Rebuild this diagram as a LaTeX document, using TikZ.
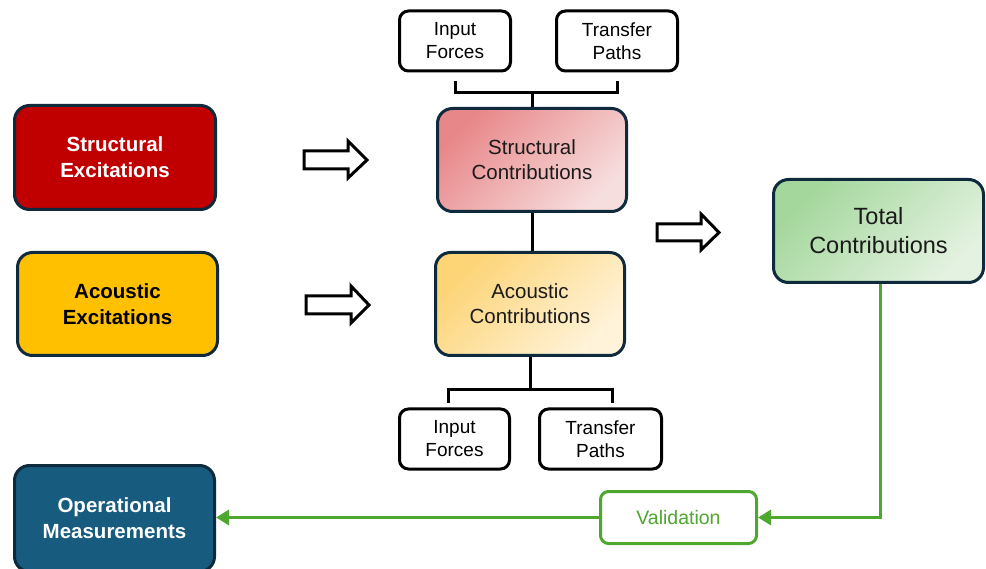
\documentclass[tikz,border=0pt]{standalone}
\usepackage{fontspec}
\setmainfont{Liberation Sans}
\usetikzlibrary{arrows.meta,calc}
\definecolor{navy}{HTML}{0E2A3C}
\definecolor{sred}{HTML}{C00000}
\definecolor{ayel}{HTML}{FFC000}
\definecolor{opblue}{HTML}{175C7E}
\definecolor{gline}{HTML}{4EA72E}
\definecolor{scA}{HTML}{E88789}
\definecolor{scB}{HTML}{F7DEDE}
\definecolor{acA}{HTML}{FDD476}
\definecolor{acB}{HTML}{FFF3DA}
\definecolor{tcA}{HTML}{A3D79B}
\definecolor{tcB}{HTML}{E4F2E1}
\definecolor{txt}{HTML}{1A1A1A}
\tikzset{
  bigbox/.style={draw=navy, line width=3pt, rounded corners=15pt, inner sep=0pt, align=center},
  exc/.style={bigbox, font=\bfseries\fontsize{20.5}{26}\selectfont},
  contrib/.style={bigbox, text=txt, font=\fontsize{20.5}{25}\selectfont},
  smallbox/.style={draw=black, line width=3pt, rounded corners=9pt, fill=white, inner sep=0pt, align=center,
     minimum height=60pt, font=\fontsize{19}{23}\selectfont},
  blockarrow/.style={draw=black, line width=3pt, fill=white, line join=miter},
  link/.style={draw=black, line width=3pt},
  glink/.style={draw=gline, line width=3.5pt, -{Triangle[length=13pt,width=15pt]}},
}
\begin{document}
\begin{tikzpicture}[x=1pt,y=-1pt]
\useasboundingbox (0,0) rectangle (986,569);
\clip (0,0) rectangle (986,569);
% left column
\node[exc, fill=sred, text=white, minimum width=201pt, minimum height=104pt] (se) at (115,157.5) {Structural\\Excitations};
\node[exc, fill=ayel, text=black, minimum width=200pt, minimum height=103pt] (ae) at (117.5,304) {Acoustic\\Excitations};
\node[exc, fill=opblue, text=white, minimum width=200pt, minimum height=106pt] (om) at (114.5,518.5) {Operational\\Measurements};
% contributions
\node[contrib, top color=scA, bottom color=scB, shading angle=45, minimum width=189pt, minimum height=103pt] (sc) at (532,160) {Structural\\Contributions};
\node[contrib, top color=acA, bottom color=acB, shading angle=45, minimum width=189pt, minimum height=103pt] (ac) at (530,304) {Acoustic\\Contributions};
\node[contrib, top color=tcA, bottom color=tcB, shading angle=45, minimum width=210pt, minimum height=103pt, font=\fontsize{23.5}{29}\selectfont] (tc) at (878.5,231) {Total\\Contributions};
% small boxes
\node[smallbox, minimum width=111pt] (ift) at (455,41) {Input\\Forces};
\node[smallbox, minimum width=121pt] (tpt) at (617,41) {Transfer\\Paths};
\node[smallbox, minimum width=110pt] (ifb) at (454.5,439) {Input\\Forces};
\node[smallbox, minimum width=122pt] (tpb) at (600.5,439) {Transfer\\Paths};
% validation
\node[draw=gline, line width=3pt, rounded corners=8pt, fill=white, text=gline, minimum width=156pt, minimum height=52pt, inner sep=0pt, font=\fontsize{19.5}{23}\selectfont] (val) at (678.5,517.5) {Validation};
% block arrows
\draw[blockarrow] (304,151) -- (348,151) -- (348,141) -- (367,160) -- (348,178) -- (348,169) -- (304,169) -- cycle;
\draw[blockarrow] (306,296) -- (351,296) -- (351,286) -- (369,305) -- (351,323) -- (351,314) -- (306,314) -- cycle;
\draw[blockarrow] (657,224) -- (701,224) -- (701,214) -- (719,232.5) -- (701,250) -- (701,241) -- (657,241) -- cycle;
% top bracket
\coordinate (tj) at ($(sc.north)+(0,-14)$);
\draw[link] ($(ift.south)+(0,9)$) |- (tj) -| ($(tpt.south)+(0,9)$);
\draw[link] (tj) -- (sc.north);
% structural to acoustic
\draw[link] (sc.south) -- (sc.south |- ac.north);
% bottom bracket
\coordinate (bj) at ($(ac.south)+(0,33)$);
\coordinate (bl) at (448,403);
\coordinate (br) at (612,403);
\draw[link] (ac.south) -- (bj);
\draw[link] (bl) |- (bj) -| (br);
% green flow
\draw[glink] ($(tc.south)+(2,0)$) |- (val.east);
\draw[glink] (val.west) -- (val.west -| om.east);
\end{tikzpicture}
\end{document}
